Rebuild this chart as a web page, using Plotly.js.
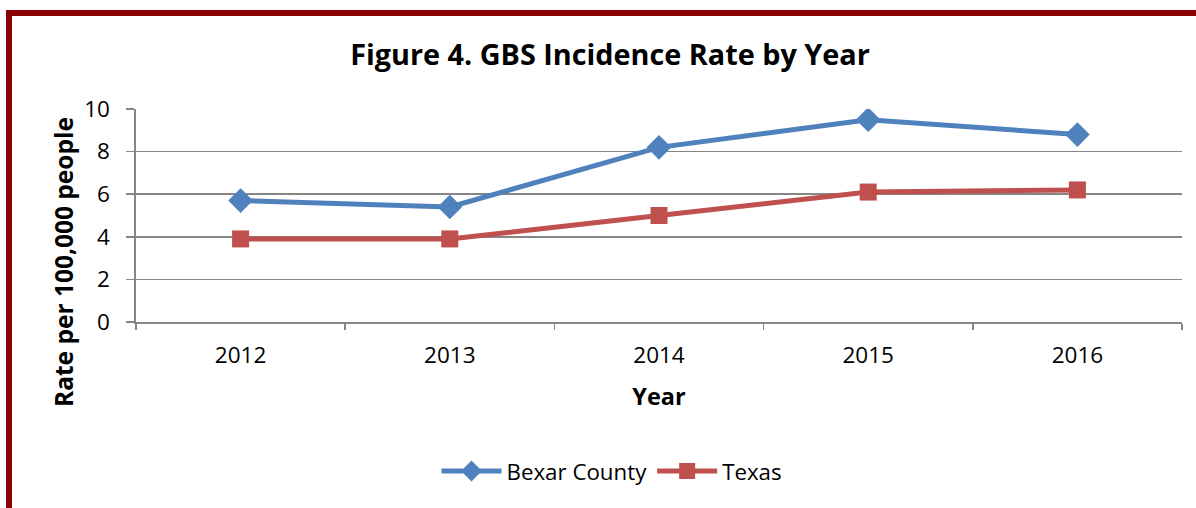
<!DOCTYPE html>
<html>
<head>
<meta charset="utf-8">
<script src="https://cdn.plot.ly/plotly-3.0.1.min.js"></script>
<style>
  html, body { margin: 0; padding: 0; background: #ffffff; overflow: hidden; }
  #frame { position: absolute; left: 6px; top: 10px; width: 1300px; height: 600px;
           border-left: 6px solid #8B0000; border-top: 6px solid #8B0000; box-sizing: border-box; }
  #chart { position: absolute; left: 0; top: 0; width: 1196px; height: 508px; }
</style>
</head>
<body>
<div id="frame"></div>
<div id="chart"></div>
<script>
const years = ["2012", "2013", "2014", "2015", "2016"];
const bexarCounty = [5.7, 5.4, 8.2, 9.5, 8.8];
const texas = [3.9, 3.9, 5.0, 6.1, 6.2];
const yTicks = [0, 2, 4, 6, 8, 10];

const FONT = "Open Sans, Liberation Sans, sans-serif";

// plot area in pixels (used only to place the rotated y title)
const PL = 136, PR = 1182, PT = 109, PB = 322;

const traces = [
  {
    x: years, y: bexarCounty, name: "Bexar County", type: "scatter", mode: "lines+markers",
    line: { color: "#4F81BD", width: 5 },
    marker: { symbol: "diamond", size: 19, color: "#4F81BD" }
  },
  {
    x: years, y: texas, name: "Texas", type: "scatter", mode: "lines+markers",
    line: { color: "#C0504D", width: 5 },
    marker: { symbol: "square", size: 17, color: "#C0504D" }
  }
];

const layout = {
  width: 1196, height: 508,
  paper_bgcolor: "rgba(0,0,0,0)", plot_bgcolor: "rgba(0,0,0,0)",
  margin: { l: PL, r: 1196 - PR, t: PT, b: 508 - PB },
  font: { family: FONT, color: "#000000" },
  title: {
    text: "<b>Figure 4. GBS Incidence Rate by Year</b>",
    font: { family: FONT, size: 28.8, color: "#000000" },
    x: 610 / 1196, xanchor: "center", y: 1 - 55 / 508, yanchor: "middle", xref: "container", yref: "container"
  },
  xaxis: {
    type: "category", range: [-0.5, 4.5],
    showgrid: false, showline: true, linecolor: "#868686", linewidth: 1.5,
    ticks: "outside", tickson: "boundaries", ticklen: 6, tickcolor: "#868686", tickwidth: 1.5,
    tickfont: { family: FONT, size: 22.5, color: "#000000" },
    ticklabelstandoff: 12,
    title: { text: "<b>Year</b>", font: { family: FONT, size: 23.5, color: "#000000" }, standoff: 20 },
    zeroline: false, fixedrange: true
  },
  yaxis: {
    range: [0, 10], tickvals: yTicks, ticktext: yTicks.map(String),
    showgrid: true, gridcolor: "#868686", gridwidth: 1.6,
    showline: true, linecolor: "#868686", linewidth: 1.6,
    ticks: "outside", ticklen: 8, tickcolor: "#868686", tickwidth: 1.5,
    tickfont: { family: FONT, size: 22.5, color: "#000000" },
    ticklabelstandoff: 12,
    zeroline: false, fixedrange: true
  },
  annotations: [
    {
      text: "<b>Rate per 100,000 people</b>", textangle: -90,
      xref: "paper", yref: "paper",
      x: (63 - PL) / (PR - PL), y: (PB - 262) / (PB - PT),
      xanchor: "center", yanchor: "middle", showarrow: false,
      font: { family: FONT, size: 24.5, color: "#000000" }
    }
  ],
  showlegend: true,
  legend: {
    orientation: "h", xref: "container", yref: "container",
    x: 612 / 1196, xanchor: "center", y: 1 - 471 / 508, yanchor: "middle",
    font: { family: FONT, size: 22.3, color: "#000000" },
    itemwidth: 60, tracegroupgap: 0, bgcolor: "rgba(0,0,0,0)"
  }
};

Plotly.newPlot("chart", traces, layout, { displayModeBar: false, staticPlot: true });
</script>
</body>
</html>
